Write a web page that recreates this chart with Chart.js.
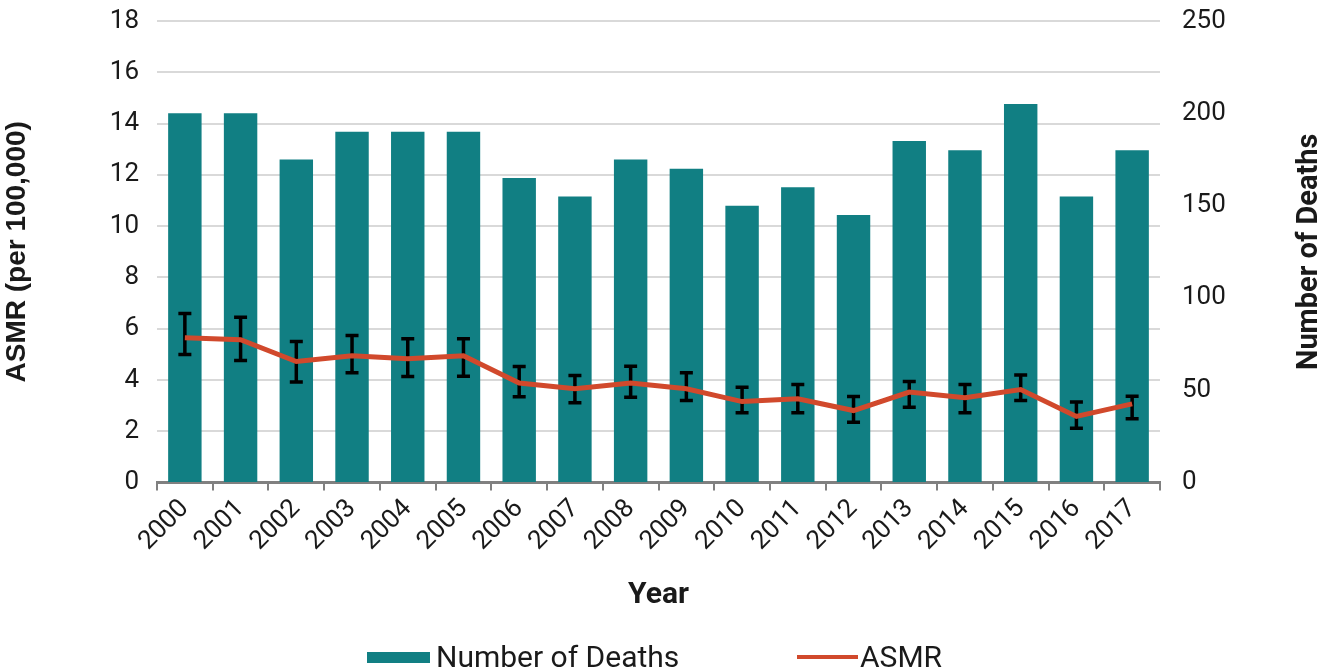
<!DOCTYPE html>
<html>
<head>
<meta charset="utf-8">
<script src="https://cdn.jsdelivr.net/npm/chart.js@4"></script>
<style>
    body { margin: 0; background: #fff; }
    #wrap { position: relative; width: 1328px; height: 671px; overflow: hidden; }
    .legend-item { position: absolute; top: 642px; height: 30px; font: 30px Roboto, sans-serif; line-height: 30px; color: #1a1a1a; white-space: nowrap; }
    .swatch { position: absolute; }
</style>
</head>
<body>
<div id="wrap">
    <canvas id="chartCanvas"></canvas>
    <div class="swatch" style="left:367px; top:652px; width:63px; height:11px; background:#117f83;"></div>
    <div class="legend-item" style="left:436px;">Number of Deaths</div>
    <div class="swatch" style="left:797px; top:655px; width:61px; height:4px; background:#d1492c;"></div>
    <div class="legend-item" style="left:860px;">ASMR</div>
</div>
<script>
const years = ['2000', '2001', '2002', '2003', '2004', '2005', '2006', '2007', '2008',
               '2009', '2010', '2011', '2012', '2013', '2014', '2015', '2016', '2017'];
const deaths = [200, 200, 175, 190, 190, 190, 165, 155, 175, 170, 150, 160, 145, 185, 180, 205, 155, 180];
const asmr = [5.65, 5.57, 4.72, 4.95, 4.83, 4.95, 3.88, 3.66, 3.88, 3.66, 3.16, 3.27, 2.81, 3.53, 3.31, 3.63, 2.58, 3.07];
const asmrLow = [5.0, 4.76, 3.92, 4.28, 4.14, 4.15, 3.35, 3.11, 3.33, 3.2, 2.72, 2.72, 2.35, 2.94, 2.72, 3.2, 2.12, 2.49];
const asmrHigh = [6.59, 6.45, 5.5, 5.74, 5.61, 5.61, 4.53, 4.18, 4.54, 4.28, 3.72, 3.83, 3.36, 3.94, 3.83, 4.2, 3.14, 3.37];

const textColor = '#1a1a1a';
const axisGray = '#808080';

// error bars for ASMR, drawn after the bars but under the line
const errorBars = {
    id: 'errorBars',
    afterDatasetDraw(chart, args) {
        if (args.index !== 0) return;
        const { ctx } = chart;
        const yScale = chart.scales.y;
        const points = chart.getDatasetMeta(1).data;
        ctx.save();
        ctx.strokeStyle = '#000';
        ctx.lineWidth = 3.5;
        points.forEach((pt, i) => {
            const x = pt.x;
            const top = yScale.getPixelForValue(asmrHigh[i]);
            const bot = yScale.getPixelForValue(asmrLow[i]);
            ctx.beginPath();
            ctx.moveTo(x, top);
            ctx.lineTo(x, bot);
            ctx.moveTo(x - 6.5, top);
            ctx.lineTo(x + 6.5, top);
            ctx.moveTo(x - 6.5, bot);
            ctx.lineTo(x + 6.5, bot);
            ctx.stroke();
        });
        ctx.restore();
    }
};

// right axis title reads bottom-to-top like the left one
const rightTitle = {
    id: 'rightTitle',
    afterDraw(chart) {
        const { ctx, chartArea } = chart;
        ctx.save();
        ctx.translate(1310, (chartArea.top + chartArea.bottom) / 2);
        ctx.rotate(-Math.PI / 2);
        ctx.font = 'bold 29px Roboto';
        ctx.fillStyle = textColor;
        ctx.textAlign = 'center';
        ctx.textBaseline = 'middle';
        ctx.fillText('Number of Deaths', 0, 0);
        ctx.restore();
    }
};

function fixSideAxis(width) {
    return scale => {
        scale.width = width;
        scale.paddingTop = 0;
        scale.paddingBottom = 0;
    };
}

new Chart(document.getElementById('chartCanvas'), {
    type: 'bar',
    data: {
        labels: years,
        datasets: [
            {
                label: 'Number of Deaths',
                data: deaths,
                yAxisID: 'y1',
                backgroundColor: '#117f83',
                barPercentage: 0.6,
                categoryPercentage: 1.0,
                order: 2
            },
            {
                type: 'line',
                label: 'ASMR',
                data: asmr,
                yAxisID: 'y',
                borderColor: '#d1492c',
                borderWidth: 5,
                pointRadius: 0,
                tension: 0,
                order: 1
            }
        ]
    },
    options: {
        responsive: true,
        maintainAspectRatio: false,
        animation: false,
        layout: { padding: { top: 21, bottom: 58, left: 0, right: 0 } },
        plugins: {
            legend: { display: false },
            tooltip: { enabled: false }
        },
        scales: {
            x: {
                offset: true,
                grid: {
                    offset: true,
                    drawOnChartArea: false,
                    drawTicks: true,
                    tickLength: 8,
                    color: axisGray,
                    lineWidth: 2
                },
                border: { color: axisGray, width: 3 },
                ticks: {
                    minRotation: 45,
                    maxRotation: 45,
                    color: textColor,
                    font: { family: 'Roboto', size: 26 }
                },
                title: {
                    display: true,
                    text: 'Year',
                    color: textColor,
                    font: { family: 'Roboto', size: 30, weight: 'bold' },
                    padding: { top: 17, bottom: 0 }
                }
            },
            y: {
                position: 'left',
                min: 0,
                max: 18,
                ticks: {
                    stepSize: 2,
                    padding: 18,
                    color: textColor,
                    font: { family: 'Roboto', size: 26 }
                },
                grid: { color: '#d9d9d9', lineWidth: 2, drawTicks: false },
                border: { display: false },
                title: {
                    display: true,
                    text: 'ASMR (per 100,000)',
                    color: textColor,
                    font: { family: 'Liberation Sans', size: 28, weight: 'bold' },
                    padding: { top: 0, bottom: 0 }
                },
                afterFit: fixSideAxis(157)
            },
            y1: {
                position: 'right',
                min: 0,
                max: 250,
                ticks: {
                    stepSize: 50,
                    padding: 22,
                    color: textColor,
                    font: { family: 'Roboto', size: 26 }
                },
                grid: { drawOnChartArea: false, drawTicks: false },
                border: { display: false },
                afterFit: fixSideAxis(168)
            }
        }
    },
    plugins: [errorBars, rightTitle]
});
</script>
</body>
</html>
